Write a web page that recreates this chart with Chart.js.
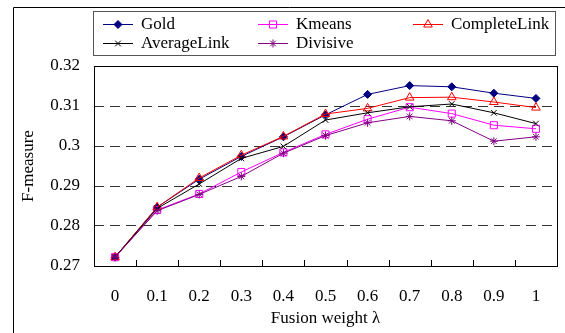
<!DOCTYPE html>
<html>
<head>
<meta charset="utf-8">
<script src="https://cdn.jsdelivr.net/npm/chart.js@4/dist/chart.umd.min.js"></script>
<style>
  html, body { margin: 0; padding: 0; background: #fff; }
  #wrap { width: 565px; height: 333px; }
</style>
</head>
<body>
<div id="wrap"><canvas id="chart" width="565" height="333"></canvas></div>
<script>
const weights = ["0", "0.1", "0.2", "0.3", "0.4", "0.5", "0.6", "0.7", "0.8", "0.9", "1"];
const gold = [0.2722, 0.2847, 0.2917, 0.2974, 0.3023, 0.3078, 0.3129, 0.3151, 0.3148, 0.3132, 0.3119];
const kmeans = [0.2722, 0.2840, 0.2880, 0.2935, 0.2984, 0.3029, 0.3067, 0.3097, 0.3081, 0.3052, 0.3043];
const completeLink = [0.2722, 0.2847, 0.2920, 0.2977, 0.3024, 0.3080, 0.3094, 0.3121, 0.3122, 0.3110, 0.3096];
const averageLink = [0.2722, 0.2844, 0.2905, 0.2969, 0.2999, 0.3065, 0.3083, 0.3098, 0.3105, 0.3083, 0.3056];
const divisive = [0.2722, 0.2838, 0.2879, 0.2924, 0.2982, 0.3026, 0.3058, 0.3074, 0.3063, 0.3012, 0.3023];
const yTicks = [0.27, 0.28, 0.29, 0.3, 0.31, 0.32];

const FONT = "'Liberation Serif', 'Times New Roman', serif";

function series(label, data, color, style, radius, fill, order) {
  return {
    label,
    data,
    borderColor: color,
    backgroundColor: fill,
    borderWidth: 1,
    pointStyle: style,
    pointRadius: radius,
    pointBorderColor: color,
    pointBackgroundColor: fill,
    pointBorderWidth: 1,
    tension: 0,
    order,
  };
}

// outer frame, plot border, inner x ticks and the boxed legend
const decor = {
  id: "decor",
  beforeDraw(chart) {
    const ctx = chart.ctx;
    ctx.save();
    ctx.strokeStyle = "#000";
    ctx.lineWidth = 1;
    ctx.beginPath();
    ctx.moveTo(13.5, 333);
    ctx.lineTo(13.5, 7.5);
    ctx.lineTo(565, 7.5);
    ctx.stroke();
    ctx.restore();
  },
  afterDraw(chart) {
    const ctx = chart.ctx;
    const a = chart.chartArea;
    const x = chart.scales.x;
    ctx.save();
    ctx.strokeStyle = "#000";
    ctx.lineWidth = 1;
    ctx.strokeRect(Math.round(a.left) + 0.5, Math.round(a.top) + 0.5,
      Math.round(a.right - a.left), Math.round(a.bottom - a.top));

    const half = (x.getPixelForValue(1) - x.getPixelForValue(0)) / 2;
    ctx.beginPath();
    for (let i = 0; i < weights.length - 1; i++) {
      const px = Math.round(x.getPixelForValue(i) + half) + 0.5;
      ctx.moveTo(px, a.bottom);
      ctx.lineTo(px, a.bottom - 6);
    }
    ctx.stroke();

    // legend
    ctx.strokeStyle = "#555";
    ctx.strokeRect(93.5, 11.5, 462, 44);
    const cols = [103, 258, 413];
    const rows = [24, 43];
    ctx.font = "17px " + FONT;
    ctx.textBaseline = "middle";
    ctx.textAlign = "left";
    const order = [0, 1, 2, 3, 4];
    order.forEach((di, k) => {
      const ds = chart.data.datasets[di];
      const lx = cols[k % 3];
      const ly = rows[Math.floor(k / 3)];
      ctx.strokeStyle = ds.borderColor;
      ctx.lineWidth = 1;
      ctx.beginPath();
      ctx.moveTo(lx, ly + 0.5);
      ctx.lineTo(lx + 30, ly + 0.5);
      ctx.stroke();
      ctx.fillStyle = ds.pointBackgroundColor;
      ctx.strokeStyle = ds.pointBorderColor;
      Chart.helpers.drawPoint(ctx, {
        pointStyle: ds.pointStyle, radius: ds.pointRadius, rotation: 0, borderWidth: 1,
      }, lx + 15, ly + 0.5);
      ctx.fillStyle = "#000";
      ctx.fillText(ds.label, lx + 38, ly + 1);
    });
    ctx.restore();
  },
};

new Chart(document.getElementById("chart"), {
  type: "line",
  data: {
    labels: weights,
    datasets: [
      series("Gold", gold, "#000080", "rectRot", 4, "#000080", 4),
      series("Kmeans", kmeans, "#ff00ff", "rect", 5, "rgba(255,255,255,0)", 3),
      series("CompleteLink", completeLink, "#ff0000", "triangle", 5, "rgba(255,255,255,0)", 2),
      series("AverageLink", averageLink, "#000000", "crossRot", 4, "#000000", 1),
      series("Divisive", divisive, "#800080", "star", 4, "#800080", 0),
    ],
  },
  options: {
    responsive: false,
    animation: false,
    layout: { padding: { left: 0, right: 8, top: 66, bottom: 0 } },
    plugins: {
      legend: { display: false },
      tooltip: { enabled: false },
    },
    scales: {
      x: {
        type: "category",
        offset: true,
        afterFit: (s) => { s.height = 67; },
        grid: { display: false, drawTicks: false },
        border: { display: false },
        ticks: { color: "#000", font: { family: FONT, size: 17 }, padding: 20, maxRotation: 0 },
        title: {
          display: true,
          text: "Fusion weight λ",
          color: "#000",
          font: { family: FONT, size: 17 },
          padding: { top: 0, bottom: 4 },
        },
      },
      y: {
        min: 0.27,
        max: 0.32,
        afterFit: (s) => { s.width = 94; },
        afterBuildTicks: (s) => { s.ticks = yTicks.map((v) => ({ value: v })); },
        grid: {
          drawTicks: false,
          color: (c) => (c.tick && (c.tick.value <= 0.27 || c.tick.value >= 0.32) ? "rgba(0,0,0,0)" : "#333"),
          lineWidth: 1,
        },
        border: { display: false, dash: [10, 6] },
        ticks: {
          color: "#000",
          font: { family: FONT, size: 17 },
          padding: 14,
          callback: (v) => String(+v.toFixed(2)),
        },
        title: {
          display: true,
          text: "F-measure",
          color: "#000",
          font: { family: FONT, size: 17 },
          padding: { top: 18, bottom: 0 },
        },
      },
    },
  },
  plugins: [decor],
});
</script>
</body>
</html>
